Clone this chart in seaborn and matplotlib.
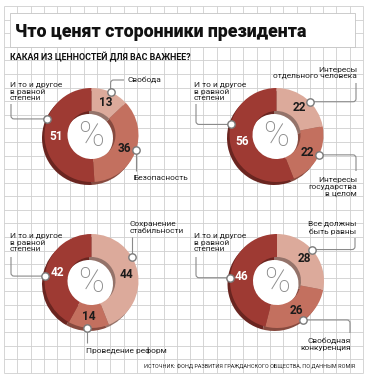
import numpy as np
import matplotlib.pyplot as plt
import seaborn as sns
from matplotlib.patches import Circle, Rectangle, PathPatch
from matplotlib.path import Path

W, H = 369, 380

# --- data ---
title = 'Что ценят сторонники президента'
subtitle = 'КАКАЯ ИЗ ЦЕННОСТЕЙ ДЛЯ ВАС ВАЖНЕЕ?'
source = 'ИСТОЧНИК: ФОНД РАЗВИТИЯ ГРАЖДАНСКОГО ОБЩЕСТВА, ПО ДАННЫМ ROMIR'
both = 'И то и другое\nв равной\nстепени'

q1_labels = ['Свобода', 'Безопасность', both]
q1_values = [13, 36, 51]
q2_labels = ['Интересы\nотдельного человека', 'Интересы\nгосударства\nв целом', both]
q2_values = [22, 22, 56]
q3_labels = ['Сохранение\nстабильности', 'Проведение реформ', both]
q3_values = [44, 14, 42]
q4_labels = ['Все должны\nбыть равны', 'Свободная\nконкуренция', both]
q4_values = [28, 26, 46]

slice_colors = ['#dcaa9b', '#c3705f', '#9e3a33']
shadow_colors = ['#94736a', '#874a3f', '#6a2520']

R_OUT, R_IN = 47, 24

# layout in image pixels (y down): donut centre, callout angle on the rim,
# connector moves ('h' to x / 'v' to y), text anchor and alignment
charts = [
    dict(center=(91.5, 135), values=q1_values, labels=q1_labels, callouts=[
        (66, [('v', 80), ('h', 124)], (127, 80), 'left'),
        (-18, [('v', 171)], (133, 178), 'left'),
        (160, [('h', 11), ('v', 104)], (10, 91.5), 'left')]),
    dict(center=(276.5, 135), values=q2_values, labels=q2_labels, callouts=[
        (45, [('h', 356), ('v', 83)], (357, 73), 'right'),
        (-25, [('h', 356), ('v', 171)], (357, 187), 'right'),
        (167, [('h', 196), ('v', 104)], (194, 91.5), 'left')]),
    dict(center=(91.5, 281), values=q3_values, labels=q3_labels, callouts=[
        (31, [('v', 237)], (130, 227.5), 'left'),
        (-95, [('v', 343)], (86, 350), 'left'),
        (174, [('h', 11), ('v', 257)], (10, 242.5), 'left')]),
    dict(center=(277, 281), values=q4_values, labels=q4_labels, callouts=[
        (42, [('h', 355), ('v', 238)], (356, 228), 'right'),
        (-56, [('h', 350), ('v', 333)], (351, 344.5), 'right'),
        (176, [('h', 196), ('v', 257)], (194, 242.5), 'left')]),
]

sns.set_theme(style='white')
plt.rcParams['font.family'] = ['Roboto', 'DejaVu Sans']

fig = plt.figure(figsize=(W / 100, H / 100), dpi=100)
ax = fig.add_axes([0, 0, 1, 1])


def connector(points, rad=3):
    verts = [points[0]]
    codes = [Path.MOVETO]
    for i in range(1, len(points) - 1):
        p0, p1, p2 = (np.array(p, float) for p in points[i - 1:i + 2])
        a = p1 - rad * (p1 - p0) / np.linalg.norm(p1 - p0)
        b = p1 + rad * (p2 - p1) / np.linalg.norm(p2 - p1)
        verts += [tuple(a), tuple(p1), tuple(b)]
        codes += [Path.LINETO, Path.CURVE3, Path.CURVE3]
    verts.append(points[-1])
    codes.append(Path.LINETO)
    ax.add_patch(PathPatch(Path(verts, codes), fc='none', ec='#8a8a8a', lw=0.8, zorder=5))


# graph paper background
gx = np.linspace(4, 363, 28)
gy = np.linspace(6, 373, 28)
ax.vlines(gx, H - 373, H - 6, color='#cfcfcf', lw=0.6, zorder=1)
ax.hlines(H - gy, 4, 363, color='#cfcfcf', lw=0.6, zorder=1)

# title block
ax.add_patch(Rectangle((10, H - 47), 345, 34, fc='white', ec='#c4c4c4', lw=0.6, zorder=1.5))
ax.text(15, H - 37, title, fontsize=12.8, fontweight='black', color='#111111',
        va='baseline', ha='left', zorder=6)
ax.text(10, H - 57, subtitle, fontsize=6.4, fontweight='bold', color='#111111',
        va='center', ha='left', zorder=6)

mx, my = [], []
for ch in charts:
    cx, cy = ch['center'][0], H - ch['center'][1]
    vals = ch['values']
    ax.add_patch(Circle((cx, cy), R_IN, fc='white', lw=0, zorder=2))
    ax.pie(vals, colors=shadow_colors, radius=R_OUT, center=(cx - 2.5, cy - 3),
           startangle=90, counterclock=False, frame=True,
           wedgeprops=dict(width=R_OUT - R_IN, linewidth=0, zorder=3))
    wedges, texts, autotexts = ax.pie(
        vals, colors=slice_colors, radius=R_OUT, center=(cx, cy),
        startangle=90, counterclock=False, frame=True,
        autopct=lambda p: f'{p:.0f}', pctdistance=(R_OUT + R_IN) / 2 / R_OUT,
        wedgeprops=dict(width=R_OUT - R_IN, linewidth=0, zorder=4),
        textprops=dict(fontsize=8.5, fontweight='bold', zorder=6))
    for t, c in zip(autotexts, ['#1a1a1a', '#1a1a1a', 'white']):
        t.set_color(c)
    ax.text(cx, cy - 1.5, '%', fontsize=25, fontweight='light', color='#8c8c8c',
            ha='center', va='center', zorder=6)

    for (ang, moves, tpos, ha), lab in zip(ch['callouts'], ch['labels']):
        px = cx + R_OUT * np.cos(np.radians(ang))
        py = cy + R_OUT * np.sin(np.radians(ang))
        pts = [(px, py)]
        for kind, v in moves:
            x0, y0 = pts[-1]
            pts.append((v, y0) if kind == 'h' else (x0, H - v))
        connector(pts)
        mx.append(px)
        my.append(py)
        ax.text(tpos[0], H - tpos[1], lab, fontsize=6, color='#222222', ha=ha,
                va='center', multialignment=ha, linespacing=1.15, zorder=6)

sns.scatterplot(x=mx, y=my, ax=ax, s=28, color='white', edgecolor='#7a7a7a',
                linewidth=1, zorder=7, legend=False)

ax.text(355, H - 366, source, fontsize=4.0, color='#222222', ha='right', va='center', zorder=6)

ax.set_aspect('auto')
ax.set_xlim(0, W)
ax.set_ylim(0, H)
ax.axis('off')
fig.savefig('out.png', dpi=100)
